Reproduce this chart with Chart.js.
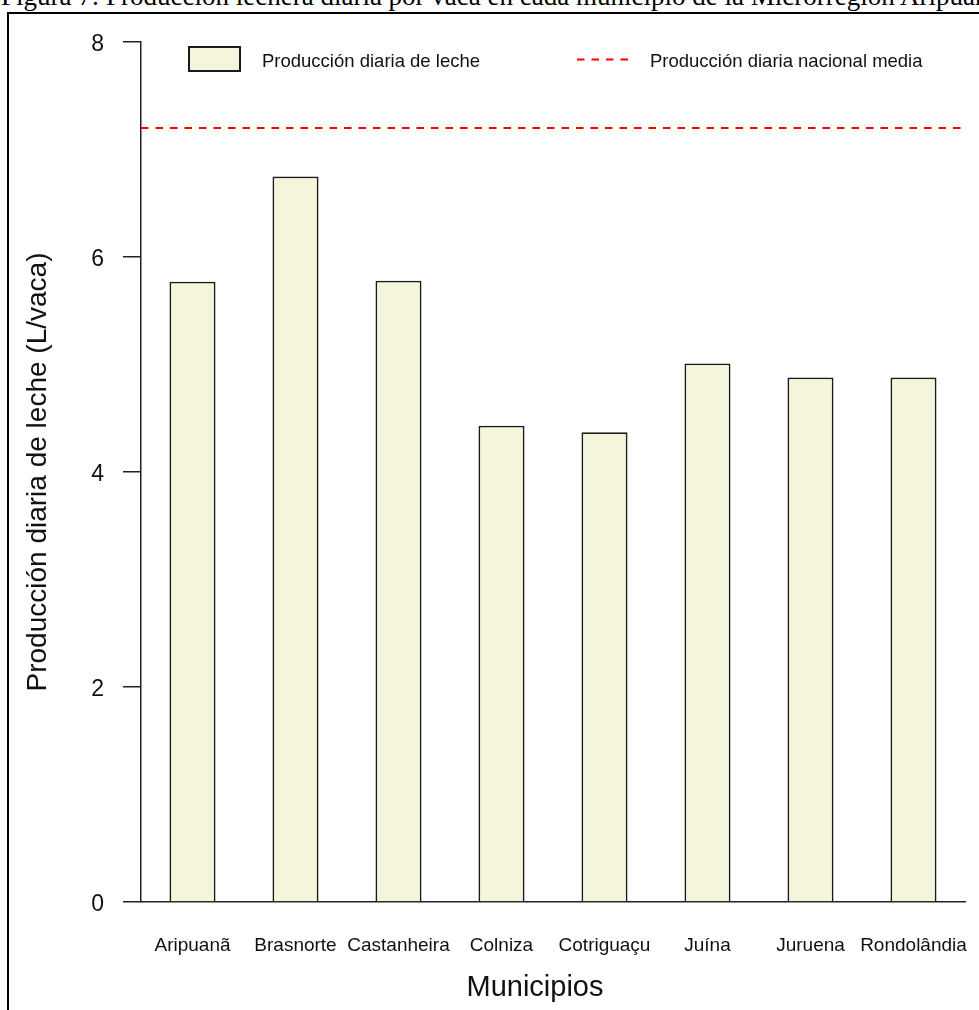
<!DOCTYPE html>
<html>
<head>
<meta charset="utf-8">
<script src="https://cdn.jsdelivr.net/npm/chart.js@4.4.1/dist/chart.umd.min.js"></script>
<style>
  html, body { margin: 0; padding: 0; background: #fff; overflow: hidden; }
  #page { position: relative; width: 979px; height: 1010px; overflow: hidden; }
  #caption { position: absolute; left: 1px; top: -17px; font: 27px/27px "Liberation Serif", "Times New Roman", serif; white-space: nowrap; color: #000; }
  #frame { position: absolute; left: 7px; top: 12px; width: 2000px; height: 2000px; border-left: 2px solid #000; border-top: 2px solid #000; }
  #chartBox { position: absolute; left: 0; top: 0; width: 979px; height: 1010px; }
  #xTitle { position: absolute; left: 0; width: 1070px; top: 972px; text-align: center; font: 29px/29px "Liberation Sans", Arial, sans-serif; color: #111; }
</style>
</head>
<body>
<div id="page">
  <div id="caption">Figura 7: Producción lechera diaria por vaca en cada municipio de la Microrregión Aripuanã</div>
  <div id="chartBox"><canvas id="milkChart"></canvas></div>
  <div id="frame"></div>
  <div id="xTitle">Municipios</div>
</div>
<script>
const municipios = ["Aripuanã", "Brasnorte", "Castanheira", "Colniza", "Cotriguaçu", "Juína", "Juruena", "Rondolândia"];
const produccionDiaria = [5.77, 6.75, 5.78, 4.43, 4.37, 5.01, 4.88, 4.88];
const mediaNacional = 7.2;
const yTicks = [0, 2, 4, 6, 8];

const FONT = '"Liberation Sans", Arial, sans-serif';
const INK = '#111';
const refLine = { label: 'Producción diaria nacional media', color: '#FF0000', width: 2, dash: [7.5, 7] };

// horizontal dashed line at the national mean, across the whole plot width
const meanLinePlugin = {
  id: 'meanLine',
  afterDatasetsDraw(chart) {
    const { ctx, chartArea, scales } = chart;
    const y = scales.y.getPixelForValue(mediaNacional);
    ctx.save();
    ctx.strokeStyle = refLine.color;
    ctx.lineWidth = refLine.width;
    ctx.setLineDash(refLine.dash);
    ctx.beginPath();
    ctx.moveTo(chartArea.left, y);
    ctx.lineTo(chartArea.right + 2, y);
    ctx.stroke();
    ctx.restore();
  }
};

// legend drawn by hand: filled box for the bars, dashed sample for the mean line
const legendPlugin = {
  id: 'manualLegend',
  afterDraw(chart) {
    const ctx = chart.ctx;
    const bars = chart.data.datasets[0];
    ctx.save();
    ctx.fillStyle = bars.backgroundColor;
    ctx.fillRect(188, 46, 53, 26);
    ctx.strokeStyle = bars.borderColor;
    ctx.lineWidth = 2;
    ctx.strokeRect(189, 47, 51, 24);
    ctx.strokeStyle = refLine.color;
    ctx.lineWidth = refLine.width;
    ctx.setLineDash(refLine.dash);
    ctx.beginPath();
    ctx.moveTo(577, 59.5);
    ctx.lineTo(630, 59.5);
    ctx.stroke();
    ctx.setLineDash([]);
    ctx.fillStyle = INK;
    ctx.font = '18.5px ' + FONT;
    ctx.textBaseline = 'alphabetic';
    ctx.fillText(bars.label, 262, 67);
    ctx.fillText(refLine.label, 650, 66.5);
    ctx.restore();
  }
};

new Chart(document.getElementById('milkChart'), {
  type: 'bar',
  data: {
    labels: municipios,
    datasets: [{
      label: 'Producción diaria de leche',
      data: produccionDiaria,
      backgroundColor: '#F5F5DC',
      borderColor: '#1a1a1a',
      borderWidth: 1.8,
      barPercentage: 0.447,
      categoryPercentage: 1
    }]
  },
  options: {
    responsive: true,
    maintainAspectRatio: false,
    animation: false,
    layout: { padding: { left: 0, top: 42, right: 14, bottom: 0 } },
    plugins: { legend: { display: false }, tooltip: { enabled: false } },
    scales: {
      x: {
        type: 'category',
        offset: true,
        grid: { display: false, drawTicks: false },
        border: { display: true, color: '#222', width: 1.5 },
        ticks: { color: INK, font: { family: FONT, size: 19 }, padding: 32, maxRotation: 0, autoSkip: false },
        afterFit(scale) {
          scale.height = 108;
          scale.paddingLeft = 0;
          scale.paddingRight = 0;
        }
      },
      y: {
        min: 0,
        max: 8,
        afterBuildTicks(scale) { scale.ticks = yTicks.map(v => ({ value: v })); },
        grid: { drawOnChartArea: false, drawTicks: true, tickLength: 18, color: '#222', lineWidth: 1.5 },
        border: { color: '#222', width: 1.5 },
        ticks: { color: INK, font: { family: FONT, size: 23 }, padding: 19, labelOffset: 3 },
        title: {
          display: true,
          text: 'Producción diaria de leche (L/vaca)',
          color: INK,
          font: { family: FONT, size: 28 },
          padding: { top: 21, bottom: 0 }
        },
        afterFit(scale) {
          scale.width = 141;
          scale.paddingTop = 0;
          scale.paddingBottom = 0;
        }
      }
    }
  },
  plugins: [meanLinePlugin, legendPlugin]
});
</script>
</body>
</html>
